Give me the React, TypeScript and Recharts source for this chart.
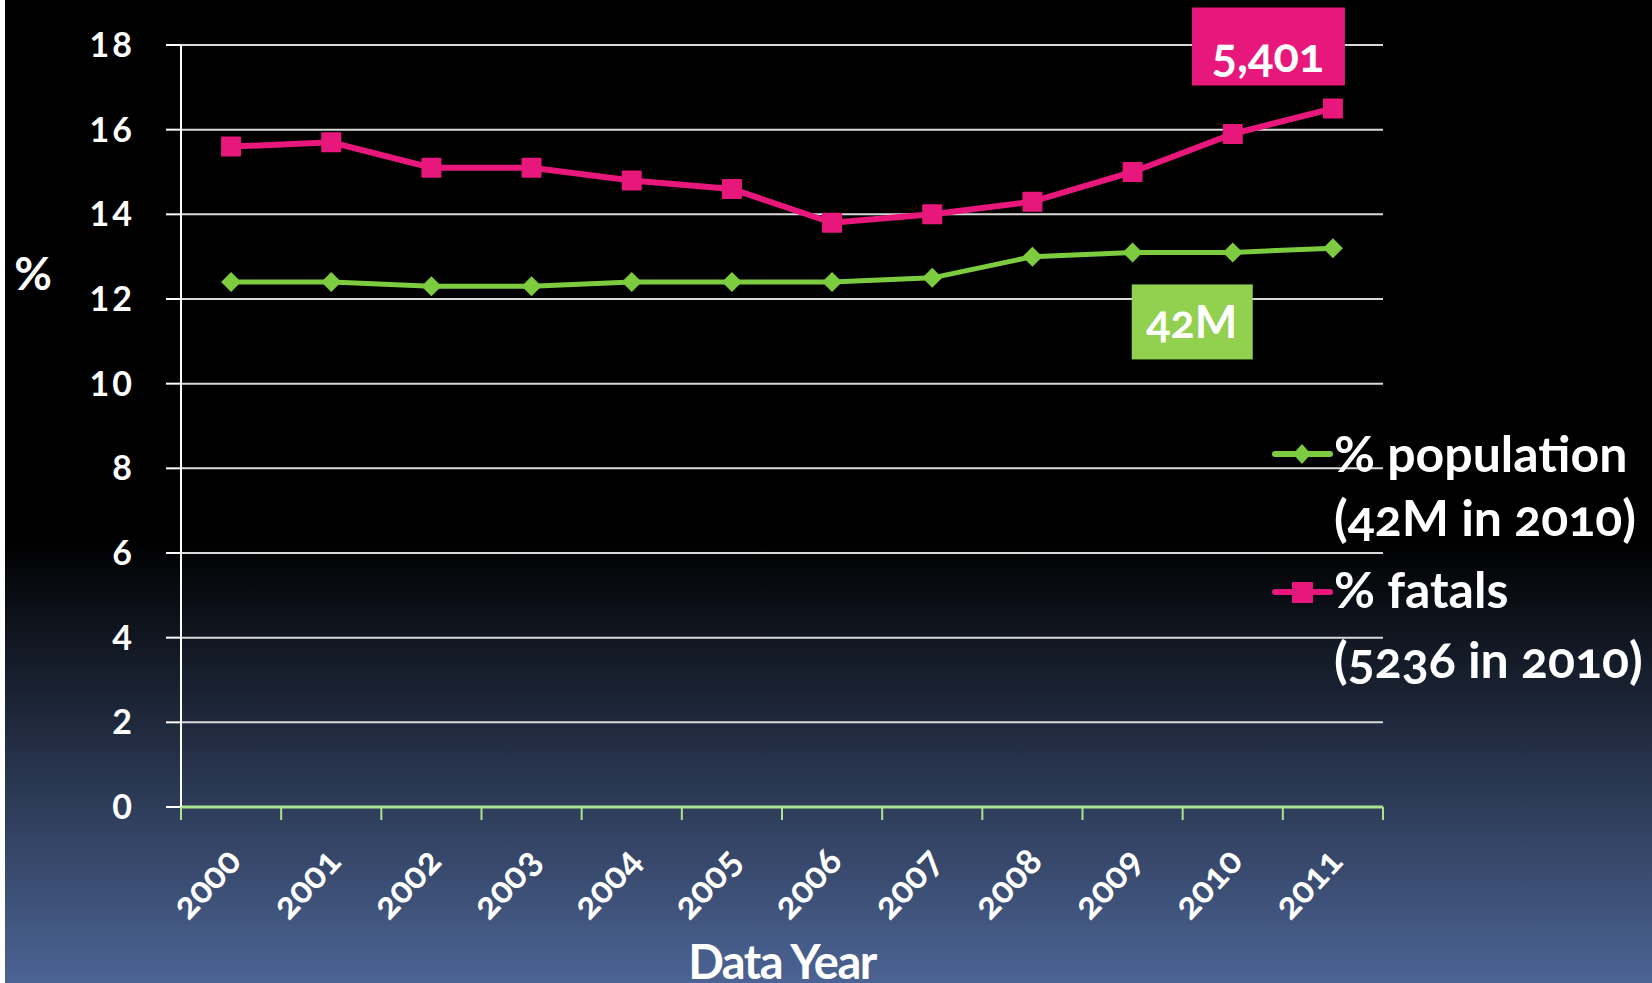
import React from "react";
import { LineChart, Line, XAxis, YAxis, CartesianGrid, Legend, LabelList } from "recharts";

const years = ["2000", "2001", "2002", "2003", "2004", "2005", "2006", "2007", "2008", "2009", "2010", "2011"];
const populationPct = [12.4, 12.4, 12.3, 12.3, 12.4, 12.4, 12.4, 12.5, 13.0, 13.1, 13.1, 13.2];
const fatalsPct = [15.6, 15.7, 15.1, 15.1, 14.8, 14.6, 13.8, 14.0, 14.3, 15.0, 15.9, 16.5];
const yTicks = [0, 2, 4, 6, 8, 10, 12, 14, 16, 18];
const populationLegend = ["% population", "(42M in 2010)"];
const fatalsLegend = ["% fatals", "(5236 in 2010)"];
const populationCallout = { index: 10, text: "42M" };
const fatalsCallout = { index: 11, text: "5,401" };

const data = years.map((year, i) => ({ year, population: populationPct[i], fatals: fatalsPct[i] }));

const W = 1652;
const H = 983;
const PLOT_LEFT = 181;
const PLOT_RIGHT = 1383;
const PLOT_TOP = 45;
const PLOT_BOTTOM = 807;
const Y_AXIS_W = 60;
const X_AXIS_H = 60;
const band = (PLOT_RIGHT - PLOT_LEFT) / years.length;

const FONT = "Lato, 'Open Sans', sans-serif";
const PINK = "#e8177c";
const GREEN = "#7dcb3e";
const GREEN_BOX = "#92d050";
const AXIS_GREEN = "#a9e58f";

function XTick(props: any) {
  const { x, index, payload } = props;
  const tx = x + 12;
  const ty = PLOT_BOTTOM + 56;
  const left = x - band / 2;
  return (
    <g>
      <line x1={left} x2={left} y1={PLOT_BOTTOM} y2={PLOT_BOTTOM + 13} stroke={AXIS_GREEN} strokeWidth={2} />
      {index === years.length - 1 && (
        <line x1={x + band / 2} x2={x + band / 2} y1={PLOT_BOTTOM} y2={PLOT_BOTTOM + 13} stroke={AXIS_GREEN} strokeWidth={2} />
      )}
      <text
        x={tx}
        y={ty}
        transform={`rotate(-47, ${tx}, ${ty})`}
        textAnchor="end"
        fill="#fff"
        fontSize={37}
        fontWeight={700}
        fontFamily={FONT}
        style={{ fontVariantNumeric: "oldstyle-nums" }}
      >
        {payload.value}
      </text>
    </g>
  );
}

function SquareDot(props: any) {
  const { cx, cy } = props;
  if (cx == null || cy == null) return null;
  return <rect x={cx - 10} y={cy - 10} width={20} height={20} fill={PINK} rx={1} />;
}

function DiamondDot(props: any) {
  const { cx, cy } = props;
  if (cx == null || cy == null) return null;
  return <path d={`M${cx},${cy - 10} L${cx + 10},${cy} L${cx},${cy + 10} L${cx - 10},${cy} Z`} fill={GREEN} />;
}

function FatalsCallout(props: any) {
  const { x, y, index } = props;
  if (index !== fatalsCallout.index) return null;
  const cx = x - 65;
  const top = y - 101;
  return (
    <g>
      <rect x={cx - 76} y={top} width={153} height={78} fill={PINK} />
      <text x={cx} y={top + 64} textAnchor="middle" fill="#fff" fontSize={47} fontWeight={700} fontFamily={FONT}
        style={{ fontVariantNumeric: "oldstyle-nums" }}>
        {fatalsCallout.text}
      </text>
    </g>
  );
}

function PopulationCallout(props: any) {
  const { x, y, index } = props;
  if (index !== populationCallout.index) return null;
  const cx = x - 41;
  const top = y + 32;
  return (
    <g>
      <rect x={cx - 60} y={top} width={121} height={75} fill={GREEN_BOX} />
      <text x={cx} y={top + 54} textAnchor="middle" fill="#fff" fontSize={45} fontWeight={700} fontFamily={FONT}
        style={{ fontVariantNumeric: "oldstyle-nums" }}>
        {populationCallout.text}
      </text>
    </g>
  );
}

function LegendContent() {
  const textProps = {
    fill: "#fff",
    fontSize: 50,
    fontWeight: 700,
    fontFamily: FONT,
    style: { fontVariantNumeric: "oldstyle-nums" as const },
  };
  return (
    <svg width={382} height={290}>
      <line x1={5} x2={60} y1={44} y2={44} stroke={GREEN} strokeWidth={6} strokeLinecap="round" />
      <path d="M32,34 L41,44 L32,54 L23,44 Z" fill={GREEN} />
      <text x={64} y={62} {...textProps}>{populationLegend[0]}</text>
      <text x={64} y={126} {...textProps}>{populationLegend[1]}</text>
      <line x1={5} x2={60} y1={182} y2={182} stroke={PINK} strokeWidth={6} strokeLinecap="round" />
      <rect x={22} y={172} width={21} height={21} fill={PINK} />
      <text x={64} y={198} {...textProps}>{fatalsLegend[0]}</text>
      <text x={64} y={268} {...textProps}>{fatalsLegend[1]}</text>
    </svg>
  );
}

export default function App() {
  return (
    <div
      style={{
        position: "absolute",
        left: 0,
        top: 0,
        width: W,
        height: H,
        overflow: "hidden",
        background: "linear-gradient(to bottom, #000 0px, #000 540px, #4c6494 983px)",
      }}
    >
      <div style={{ position: "absolute", left: 0, top: 0, width: 5, height: H, background: "#fff" }} />
      <LineChart
        width={W}
        height={H}
        data={data}
        margin={{
          top: PLOT_TOP,
          right: W - PLOT_RIGHT,
          bottom: H - PLOT_BOTTOM - X_AXIS_H,
          left: PLOT_LEFT - Y_AXIS_W,
        }}
      >
        <CartesianGrid vertical={false} stroke="#d9d9d9" strokeWidth={2} />
        <XAxis
          dataKey="year"
          height={X_AXIS_H}
          padding={{ left: band / 2, right: band / 2 }}
          axisLine={{ stroke: AXIS_GREEN, strokeWidth: 3 }}
          tickLine={false}
          interval={0}
          tick={<XTick />}
          label={{
            value: "Data Year",
            position: "insideBottom",
            content: () => (
              <text x={(PLOT_LEFT + PLOT_RIGHT) / 2} y={979} textAnchor="middle" fill="#fff" fontSize={47}
                fontWeight={700} fontFamily={FONT} letterSpacing={-1.5}>
                Data Year
              </text>
            ),
          }}
        />
        <YAxis
          type="number"
          domain={[0, 18]}
          ticks={yTicks}
          width={Y_AXIS_W}
          interval={0}
          axisLine={{ stroke: "#fff", strokeWidth: 2 }}
          tickLine={{ stroke: "#fff", strokeWidth: 2 }}
          tickSize={15}
          tickMargin={31}
          tick={{ fill: "#fff", fontSize: 34, fontWeight: 700, fontFamily: FONT, letterSpacing: 3 }}
          label={{
            value: "%",
            content: () => (
              <text x={33} y={290} textAnchor="middle" fill="#fff" fontSize={46} fontWeight={700} fontFamily={FONT}>
                %
              </text>
            ),
          }}
        />
        <Legend
          layout="horizontal"
          verticalAlign="middle"
          align="center"
          content={<LegendContent />}
          wrapperStyle={{ left: 1270, top: 410, width: 382, height: 290 }}
        />
        <Line
          type="linear"
          dataKey="population"
          stroke={GREEN}
          strokeWidth={5}
          dot={<DiamondDot />}
          activeDot={false}
          isAnimationActive={false}
        >
          <LabelList dataKey="population" content={<PopulationCallout />} />
        </Line>
        <Line
          type="linear"
          dataKey="fatals"
          stroke={PINK}
          strokeWidth={6}
          dot={<SquareDot />}
          activeDot={false}
          isAnimationActive={false}
        >
          <LabelList dataKey="fatals" content={<FatalsCallout />} />
        </Line>
      </LineChart>
    </div>
  );
}
